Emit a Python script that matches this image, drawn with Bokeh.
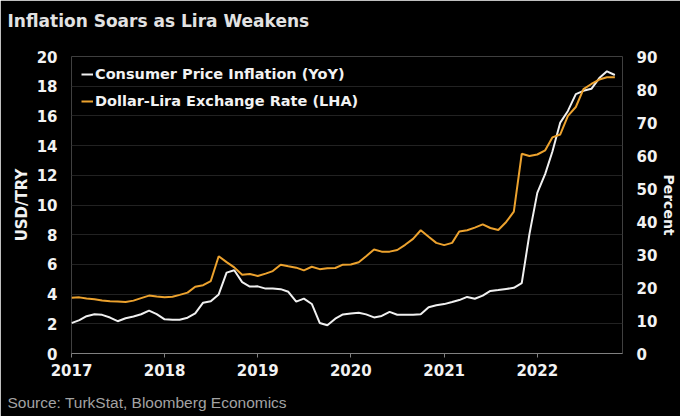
import pandas as pd
from datetime import datetime
from bokeh.plotting import figure
from bokeh.models import (Range1d, LinearAxis, FixedTicker, Legend, LegendItem,
                          Title, DatetimeTickFormatter)
from bokeh.embed import file_html
from bokeh.resources import INLINE

# ---------------- data ----------------
TITLE = "Inflation Soars as Lira Weakens"
SOURCE = "Source: TurkStat, Bloomberg Economics"
CPI_LABEL = "Consumer Price Inflation (YoY)"
FX_LABEL = "Dollar-Lira Exchange Rate (LHA)"

months = pd.date_range("2017-01-01", periods=71, freq="MS")

usd_try = [3.75, 3.78, 3.70, 3.66, 3.57, 3.52, 3.50, 3.47, 3.56, 3.73, 3.90, 3.84,
           3.79, 3.82, 3.95, 4.10, 4.50, 4.60, 4.88, 6.55, 6.15, 5.80, 5.30, 5.35,
           5.22, 5.38, 5.55, 5.98, 5.88, 5.78, 5.60, 5.84, 5.68, 5.74, 5.76, 5.98,
           5.99, 6.15, 6.55, 7.00, 6.86, 6.86, 6.97, 7.32, 7.72, 8.30, 7.86, 7.45,
           7.30, 7.45, 8.22, 8.30, 8.48, 8.70, 8.45, 8.32, 8.86, 9.55, 13.45, 13.30,
           13.40, 13.68, 14.55, 14.75, 16.00, 16.60, 17.80, 18.15, 18.45, 18.60, 18.60]

cpi_yoy = [9.22, 10.13, 11.29, 11.87, 11.72, 10.90, 9.79, 10.68, 11.20, 11.90, 12.98, 11.92,
           10.35, 10.26, 10.23, 10.85, 12.15, 15.39, 15.85, 17.90, 24.52, 25.24, 21.62, 20.30,
           20.35, 19.67, 19.71, 19.50, 18.71, 15.72, 16.65, 15.01, 9.26, 8.55, 10.56, 11.84,
           12.15, 12.37, 11.86, 10.94, 11.39, 12.62, 11.76, 11.77, 11.75, 11.89, 14.03, 14.60,
           14.97, 15.61, 16.19, 17.14, 16.59, 17.53, 18.95, 19.25, 19.58, 19.89, 21.31, 36.08,
           48.69, 54.44, 61.14, 69.97, 73.50, 78.62, 79.60, 80.21, 83.45, 85.51, 84.39]

year_ticks = [2017, 2018, 2019, 2020, 2021, 2022]
usd_ticks = [0, 2, 4, 6, 8, 10, 12, 14, 16, 18, 20]
pct_ticks = [0, 10, 20, 30, 40, 50, 60, 70, 80, 90]

# ---------------- style ----------------
FONT = "DejaVu Sans"
TXT = "#f2f2f2"
ORANGE = "#eca22e"
WHITE = "#f0f0f0"
GRID = "#222222"

p = figure(width=680, height=416, x_axis_type="datetime",
           x_range=Range1d(datetime(2017, 1, 1), datetime(2022, 12, 1)),
           y_range=Range1d(0, 20),
           output_backend="svg", toolbar_location=None,
           min_border_left=71, min_border_right=53, min_border_top=56, min_border_bottom=63,
           background_fill_color="black", border_fill_color="black",
           outline_line_color=None)
p.extra_y_ranges = {"pct": Range1d(0, 90)}

r_cpi = p.line(months, cpi_yoy, y_range_name="pct", line_color=WHITE, line_width=2)
r_fx = p.line(months, usd_try, line_color=ORANGE, line_width=2)

# x axis
xa = p.xaxis[0]
year_ms = [datetime(y, 1, 1).timestamp() * 1000 for y in year_ticks]
xa.ticker = FixedTicker(ticks=year_ms)
xa.formatter = DatetimeTickFormatter(years="%Y", months="%Y", days="%Y", hours="%Y",
                                     hourmin="%Y", minutes="%Y", minsec="%Y",
                                     seconds="%Y", milliseconds="%Y", microseconds="%Y")
xa.axis_line_color = "#808080"
xa.major_tick_line_color = "#808080"
xa.major_tick_out = 4
xa.major_tick_in = 0
xa.minor_tick_line_color = None
xa.major_label_standoff = 6
xa.major_label_text_font = FONT
xa.major_label_text_font_style = "bold"
xa.major_label_text_font_size = "15px"
xa.major_label_text_color = TXT

# left axis
ya = p.yaxis[0]
ya.ticker = FixedTicker(ticks=usd_ticks)
ya.axis_label = "USD/TRY"
ya.axis_line_color = None
ya.major_tick_line_color = None
ya.minor_tick_line_color = None
ya.major_tick_out = 0
ya.major_label_standoff = 14
ya.axis_label_standoff = 3

# right axis
ra = LinearAxis(y_range_name="pct", ticker=FixedTicker(ticks=pct_ticks), axis_label="Percent")
ra.axis_line_color = None
ra.major_tick_line_color = None
ra.minor_tick_line_color = None
ra.major_tick_out = 0
ra.major_label_standoff = 14
ra.axis_label_standoff = 1
p.add_layout(ra, "right")

for ax in (ya, ra):
    ax.major_label_text_font = FONT
    ax.major_label_text_font_style = "bold"
    ax.major_label_text_font_size = "15px"
    ax.major_label_text_color = TXT
    ax.axis_label_text_font = FONT
    ax.axis_label_text_font_style = "bold"
    ax.axis_label_text_color = TXT
ya.axis_label_text_font_size = "15px"
ra.axis_label_text_font_size = "14px"

p.xgrid.grid_line_color = None
p.ygrid.grid_line_color = GRID
p.ygrid.grid_line_width = 1

legend = Legend(items=[LegendItem(label=CPI_LABEL, renderers=[r_cpi]),
                       LegendItem(label=FX_LABEL, renderers=[r_fx])],
                location="top_left", margin=0, padding=10, spacing=11,
                glyph_width=12, glyph_height=16, label_height=16, label_standoff=2,
                background_fill_alpha=0, border_line_alpha=0,
                label_text_font=FONT, label_text_font_style="bold",
                label_text_font_size="14.5px", label_text_color=TXT)
p.add_layout(legend)

# spacer titles (closest to the frame) push the real title / source outward
p.add_layout(Title(text=" ", text_font_size="8px"), "above")
p.add_layout(Title(text=TITLE, align="left", offset=-64,
                   text_font=FONT, text_font_style="bold", text_font_size="17px",
                   text_color="#e2e2e2"), "above")
p.add_layout(Title(text=" ", text_font_size="5px", standoff=0), "below")
p.add_layout(Title(text=SOURCE, align="left", offset=-64,
                   text_font="Liberation Sans", text_font_style="normal",
                   text_font_size="15.5px", text_color="#a3a3a3"), "below")

open("out.html", "w").write(file_html(p, INLINE))
